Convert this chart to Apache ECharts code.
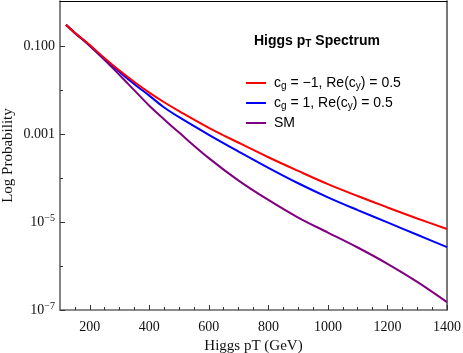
<!DOCTYPE html>
<html><head><meta charset="utf-8">
<script src="https://cdn.jsdelivr.net/npm/echarts@6/dist/echarts.min.js"></script>
<style>html,body{margin:0;padding:0;background:#fff}#c{width:463px;height:353px}</style>
</head><body><div id="c"></div>
<script>
// Higgs pT (GeV)
const pT = [120,150,200,250,300,350,400,450,500,600,700,800,900,1000,1100,1200,1300,1400];
// log10 of probability
const logRed  = [-0.52,-0.70,-0.98,-1.28,-1.56,-1.82,-2.06,-2.28,-2.48,-2.86,-3.20,-3.53,-3.84,-4.14,-4.41,-4.67,-4.92,-5.16];
const logBlue = [-0.52,-0.70,-0.99,-1.29,-1.59,-1.87,-2.13,-2.40,-2.62,-3.02,-3.40,-3.77,-4.12,-4.44,-4.73,-5.01,-5.29,-5.57];
const logSM   = [-0.52,-0.71,-1.00,-1.32,-1.66,-2.01,-2.36,-2.67,-2.97,-3.55,-4.06,-4.50,-4.90,-5.24,-5.58,-5.95,-6.36,-6.82];
const seriesNames = ['neg','pos','SM'];
const xMajorTicks = [200,400,600,800,1000,1200,1400];
const xMinorTicks = [150,250,300,350,450,500,550,650,700,750,850,900,950,1050,1100,1150,1250,1300,1350];
const yMajorTicks = [-7,-5,-3,-1];
const yMinorTicks = [-6,-4,-2];
const yTickText = {'-1':'0.100','-3':'0.001','-5':'{b|10}{sup|−5}','-7':'{b|10}{sup|−7}'};
const legendText = {
  neg: '{t|c}{sub|g}{t| = −1, Re(c}{sub|y}{t|) = 0.5}',
  pos: '{t|c}{sub|g}{t| = 1, Re(c}{sub|y}{t|) = 0.5}',
  SM: '{t|SM}'
};
const colors = ['#ff0000','#0000ff','#800080'];

const serif = 'Liberation Serif';
const sans = 'Liberation Sans';
const gridRect = {left:60, right:16, top:1, bottom:43, outerBoundsMode:'none', containLabel:false};
const chart = echarts.init(document.getElementById('c'), null, {renderer:'canvas'});
const mk = (ys) => pT.map((x,i)=>[x, ys[i]]);
const noLine = {show:false, onZero:false};
chart.setOption({
  animation:false,
  backgroundColor:'#fff',
  title:{
    text:'{b|Higgs p}{s|T}{b| Spectrum}',
    left:254, top:33, padding:0,
    textStyle:{rich:{
      b:{fontFamily:sans,fontWeight:'bold',fontSize:14,color:'#000'},
      s:{fontFamily:sans,fontWeight:'bold',fontSize:10,color:'#000',padding:[6,0,0,0]}
    }}
  },
  legend:{
    orient:'vertical', left:246, top:76, padding:0, itemWidth:20, itemHeight:2, itemGap:5,
    icon:'rect',
    data:seriesNames,
    formatter:(n)=>legendText[n],
    textStyle:{padding:[0,0,0,3],rich:{
      t:{fontFamily:sans,fontSize:14,color:'#000'},
      sub:{fontFamily:sans,fontSize:10,color:'#000',padding:[6,0,0,0]}
    }}
  },
  grid:[Object.assign({},gridRect), Object.assign({},gridRect)],
  xAxis:[
    {type:'value', gridIndex:0, position:'bottom', min:100, max:1400,
     axisLine:{show:true,onZero:false,lineStyle:{color:'#666',width:1.6}},
     axisTick:{show:true,inside:true,length:5,customValues:xMajorTicks,lineStyle:{color:'#333'}},
     axisLabel:{customValues:xMajorTicks,formatter:(v)=>String(v),fontFamily:serif,fontSize:14,color:'#111',margin:10},
     splitLine:{show:false},
     name:'Higgs pT (GeV)', nameLocation:'middle', nameGap:26,
     nameTextStyle:{fontFamily:serif,fontSize:15,color:'#111'}},
    {type:'value', gridIndex:0, position:'top', min:100, max:1400,
     axisLine:{show:true,onZero:false,lineStyle:{color:'#000',width:1}},
     axisTick:{show:false}, axisLabel:{show:false}, splitLine:{show:false}},
    {type:'value', gridIndex:1, position:'bottom', min:100, max:1400,
     axisLine:noLine,
     axisTick:{show:true,inside:true,length:3,customValues:xMinorTicks,lineStyle:{color:'#333'}},
     axisLabel:{show:false}, splitLine:{show:false}}
  ],
  yAxis:[
    {type:'value', gridIndex:0, position:'left', min:-7, max:0.02,
     axisLine:{show:true,onZero:false,lineStyle:{color:'#666',width:1.6}},
     axisTick:{show:true,inside:true,length:5,customValues:yMajorTicks,lineStyle:{color:'#333'}},
     axisLabel:{customValues:yMajorTicks,margin:5,
       formatter:(v)=>yTickText[String(Math.round(v))],
       fontFamily:serif,fontSize:14,color:'#111',
       rich:{b:{fontFamily:serif,fontSize:14,color:'#111'},
             sup:{fontFamily:serif,fontSize:10,color:'#111',padding:[0,0,8,0]}}},
     splitLine:{show:false},
     name:'Log Probability', nameLocation:'middle', nameGap:44, nameMoveOverlap:false,
     nameTextStyle:{fontFamily:serif,fontSize:15,color:'#111'}},
    {type:'value', gridIndex:0, position:'right', min:-7, max:0.02,
     axisLine:{show:true,onZero:false,lineStyle:{color:'#555',width:1.6}},
     axisTick:{show:false}, axisLabel:{show:false}, splitLine:{show:false}},
    {type:'value', gridIndex:1, position:'left', min:-7, max:0.02,
     axisLine:noLine,
     axisTick:{show:true,inside:true,length:3,customValues:yMinorTicks,lineStyle:{color:'#333'}},
     axisLabel:{show:false}, splitLine:{show:false}}
  ],
  series:[logRed,logBlue,logSM].map((ys,i)=>({
    name:seriesNames[i], type:'line', xAxisIndex:0, yAxisIndex:0,
    data:mk(ys), smooth:0.35, showSymbol:false, symbol:'none',
    lineStyle:{color:colors[i],width:2}, itemStyle:{color:colors[i]}, z:3-i
  }))
});
</script></body></html>
